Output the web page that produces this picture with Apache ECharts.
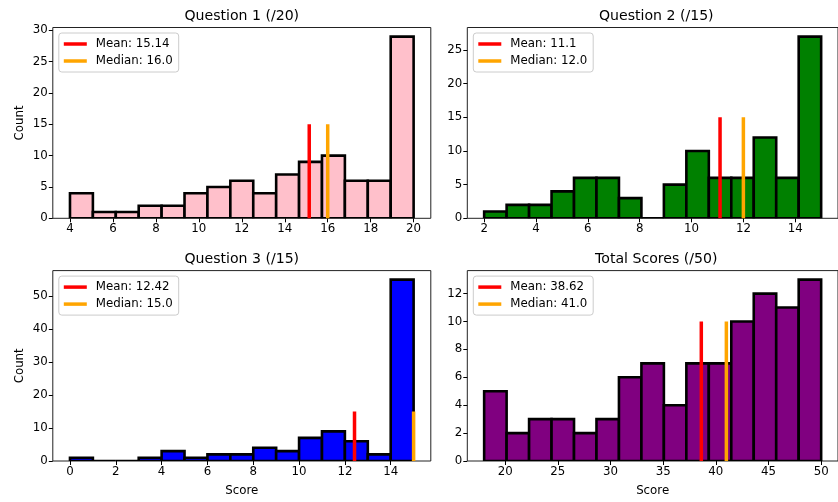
<!DOCTYPE html>
<html>
<head>
<meta charset="utf-8">
<script src="https://cdn.jsdelivr.net/npm/echarts@6/dist/echarts.min.js"></script>
<style>html,body{margin:0;padding:0;background:#fff;}#c{width:838px;height:502px;}</style>
</head>
<body>
<div id="c"></div>
<script>
// ---- data ----
const titles = ['Question 1 (/20)', 'Question 2 (/15)', 'Question 3 (/15)', 'Total Scores (/50)'];
const q1Counts = [4, 1, 1, 2, 2, 4, 5, 6, 4, 7, 9, 10, 6, 6, 29];
const q2Counts = [1, 2, 2, 4, 6, 6, 3, 0, 5, 10, 6, 6, 12, 6, 27];
const q3Counts = [1, 0, 0, 1, 3, 1, 2, 2, 4, 3, 7, 9, 6, 2, 55];
const totalCounts = [5, 2, 3, 3, 2, 3, 6, 7, 4, 7, 7, 10, 12, 11, 13];
const binRanges = [[4, 20], [2, 15], [0, 15], [18, 50]];
const means = [15.14, 11.1, 12.42, 38.62];
const medians = [16.0, 12.0, 15.0, 41.0];
const statLineTops = [15, 15, 15, 10];
const barColors = ['#ffc0cb', '#008000', '#0000ff', '#800080'];
const xTicks = [
  [4, 6, 8, 10, 12, 14, 16, 18, 20],
  [2, 4, 6, 8, 10, 12, 14],
  [0, 2, 4, 6, 8, 10, 12, 14],
  [20, 25, 30, 35, 40, 45, 50]
];
const yTicks = [
  [0, 5, 10, 15, 20, 25, 30],
  [0, 5, 10, 15, 20, 25],
  [0, 10, 20, 30, 40, 50],
  [0, 2, 4, 6, 8, 10, 12]
];
const allCounts = [q1Counts, q2Counts, q3Counts, totalCounts];

// ---- layout ----
const FONT = 'DejaVu Sans';
const gridsPos = [
  {left: 52.8, top: 27.5, width: 378, height: 190.8},
  {left: 467.3, top: 27.5, width: 378, height: 190.8},
  {left: 52.8, top: 270.6, width: 378, height: 190.4},
  {left: 467.3, top: 270.6, width: 378, height: 190.4}
];

const grid = [], xAxis = [], yAxis = [], series = [], legend = [], title = [];

allCounts.forEach((counts, k) => {
  const g = gridsPos[k];
  grid.push(Object.assign({show: true, borderColor: '#222', borderWidth: 1, backgroundColor: 'transparent'}, g));
  const lo = binRanges[k][0], hi = binRanges[k][1];
  const span = hi - lo;
  const w = span / counts.length;
  const yMax = Math.max.apply(null, counts) * 1.05;
  xAxis.push({
    type: 'value', gridIndex: k, min: lo - 0.05 * span, max: hi + 0.05 * span,
    splitLine: {show: false},
    axisLine: {show: false, onZero: false},
    axisTick: {show: true, length: 4, inside: false, lineStyle: {color: '#000', width: 1}, customValues: xTicks[k]},
    axisLabel: {customValues: xTicks[k], color: '#000', fontFamily: FONT, fontSize: 11.8, margin: 5},
    name: k >= 2 ? 'Score' : '', nameLocation: 'middle', nameGap: 24,
    nameTextStyle: {color: '#000', fontFamily: FONT, fontSize: 11.8}
  });
  yAxis.push({
    type: 'value', gridIndex: k, min: 0, max: yMax,
    splitLine: {show: false},
    axisLine: {show: false, onZero: false},
    axisTick: {show: true, length: 4, inside: false, lineStyle: {color: '#000', width: 1}, customValues: yTicks[k]},
    axisLabel: {customValues: yTicks[k], color: '#000', fontFamily: FONT, fontSize: 11.8, margin: 5},
    name: (k % 2 === 0) ? 'Count' : '', nameLocation: 'middle', nameGap: 27,
    nameTextStyle: {color: '#000', fontFamily: FONT, fontSize: 11.8}
  });
  const color = barColors[k];
  series.push({
    type: 'custom', xAxisIndex: k, yAxisIndex: k, clip: true, z: 2,
    data: counts.map((c, i) => [lo + i * w, lo + (i + 1) * w, c]),
    encode: {x: [0, 1], y: 2},
    renderItem: function (params, api) {
      const p0 = api.coord([api.value(0), api.value(2)]);
      const p1 = api.coord([api.value(1), 0]);
      return {
        type: 'rect',
        shape: {x: p0[0], y: p0[1], width: p1[0] - p0[0], height: p1[1] - p0[1]},
        style: {fill: color, stroke: '#000', lineWidth: 2.6}
      };
    }
  });
  const meanName = 'Mean: ' + String(means[k]);
  const medName = 'Median: ' + medians[k].toFixed(1);
  series.push({
    type: 'line', name: meanName, xAxisIndex: k, yAxisIndex: k, z: 5,
    data: [[means[k], 0], [means[k], statLineTops[k]]],
    showSymbol: false, symbol: 'none', silent: true,
    lineStyle: {color: '#ff0000', width: 3.5}, itemStyle: {color: '#ff0000'}
  });
  series.push({
    type: 'line', name: medName, xAxisIndex: k, yAxisIndex: k, z: 5,
    data: [[medians[k], 0], [medians[k], statLineTops[k]]],
    showSymbol: false, symbol: 'none', silent: true,
    lineStyle: {color: '#ffa500', width: 3.5}, itemStyle: {color: '#ffa500'}
  });
  legend.push({
    data: [meanName, medName], left: g.left + 6, top: g.top + 5.5,
    orient: 'vertical', icon: 'rect', itemWidth: 23, itemHeight: 3.5, itemGap: 5,
    selectedMode: false,
    textStyle: {color: '#000', fontFamily: FONT, fontSize: 11.8, padding: [0, 0, 0, 4]},
    padding: [5, 6, 5, 5], borderColor: '#ccc', borderWidth: 1, borderRadius: 3,
    backgroundColor: 'rgba(255,255,255,0.8)'
  });
  title.push({
    text: titles[k], left: g.left + g.width / 2, top: g.top - 18, textAlign: 'center',
    padding: 0,
    textStyle: {color: '#000', fontFamily: FONT, fontSize: 14.1, fontWeight: 'normal'}
  });
});

const chart = echarts.init(document.getElementById('c'), null, {renderer: 'canvas'});
chart.setOption({animation: false, backgroundColor: '#fff', title, grid, xAxis, yAxis, series, legend});
</script>
</body>
</html>
